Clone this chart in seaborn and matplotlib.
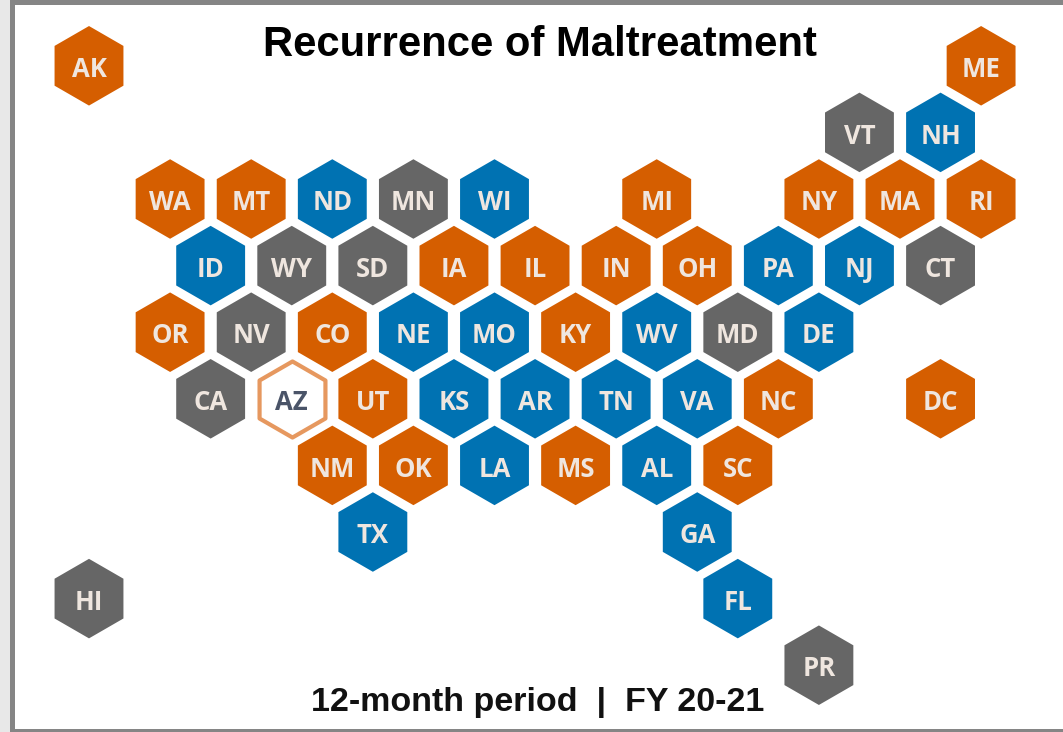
import matplotlib
matplotlib.use("Agg")
import matplotlib.pyplot as plt
import pandas as pd
import seaborn as sns
from matplotlib.patches import Rectangle

# tile grid: half-column steps across, one row per line of tiles
states = ['AK', 'ME', 'VT', 'NH',
          'WA', 'MT', 'ND', 'MN', 'WI', 'MI', 'NY', 'MA', 'RI',
          'ID', 'WY', 'SD', 'IA', 'IL', 'IN', 'OH', 'PA', 'NJ', 'CT',
          'OR', 'NV', 'CO', 'NE', 'MO', 'KY', 'WV', 'MD', 'DE',
          'CA', 'AZ', 'UT', 'KS', 'AR', 'TN', 'VA', 'NC', 'DC',
          'NM', 'OK', 'LA', 'MS', 'AL', 'SC',
          'TX', 'GA', 'FL', 'HI', 'PR']
grid_col = [0, 22, 19, 21,
            2, 4, 6, 8, 10, 14, 18, 20, 22,
            3, 5, 7, 9, 11, 13, 15, 17, 19, 21,
            2, 4, 6, 8, 10, 12, 14, 16, 18,
            3, 5, 7, 9, 11, 13, 15, 17, 21,
            6, 8, 10, 12, 14, 16,
            7, 15, 16, 0, 18]
grid_row = [0, 0, 1, 1,
            2, 2, 2, 2, 2, 2, 2, 2, 2,
            3, 3, 3, 3, 3, 3, 3, 3, 3, 3,
            4, 4, 4, 4, 4, 4, 4, 4, 4,
            5, 5, 5, 5, 5, 5, 5, 5, 5,
            6, 6, 6, 6, 6, 6,
            7, 7, 8, 8, 9]
status = ['worse', 'worse', 'same', 'better',
          'worse', 'worse', 'better', 'same', 'better', 'worse', 'worse', 'worse', 'worse',
          'better', 'same', 'same', 'worse', 'worse', 'worse', 'worse', 'better', 'better', 'same',
          'worse', 'same', 'worse', 'better', 'better', 'worse', 'better', 'same', 'better',
          'same', 'selected', 'worse', 'better', 'better', 'better', 'better', 'worse', 'worse',
          'worse', 'worse', 'better', 'worse', 'better', 'worse',
          'better', 'better', 'better', 'same', 'same']

colores = {'worse': '#D55E00', 'better': '#0072B2', 'same': '#666666'}
borde_az = '#E6985F'

df = pd.DataFrame({'state': states, 'col': grid_col, 'row': grid_row, 'status': status})

sns.set_theme(style="white")
plt.rcParams['font.family'] = ['Open Sans', 'DejaVu Sans']

fig, ax = plt.subplots(figsize=(10.63, 7.32), dpi=100)
ax.set_position([0, 0, 1, 1])
ax.axis('off')

sns.scatterplot(data=df[df['status'] != 'selected'], x='col', y='row', hue='status',
                palette=colores, marker='h', s=3280, linewidth=0, legend=False, ax=ax)
sns.scatterplot(data=df[df['status'] == 'selected'], x='col', y='row', marker='h', s=3000,
                color='white', edgecolor=borde_az, linewidth=3, legend=False, ax=ax)

ax.set_xlim(-89 / 40.55, (1063 - 89) / 40.55)
ax.set_ylim((732 - 65.8) / 66.6, -65.8 / 66.6)

for _, fila in df.iterrows():
    cor = '#4A5468' if fila['status'] == 'selected' else '#EFE6DF'
    ax.text(fila['col'], fila['row'] + 0.055, fila['state'], ha='center', va='center',
            fontsize=18.5, fontweight='bold', color=cor)

fig.text(540 / 1063, 1 - 45 / 732, 'Recurrence of Maltreatment', ha='center', va='center',
         fontsize=30.2, fontweight='bold', color='black', family='Liberation Sans')
fig.text(538 / 1063, 1 - 702 / 732, '12-month period  |  FY 20-21', ha='center', va='center',
         fontsize=24.5, fontweight='bold', color='#111111', family='Liberation Sans')

# moldura da janela
fig.patches.append(Rectangle((0, 0), 10 / 1063, 1, transform=fig.transFigure, facecolor='#E8E8E8', edgecolor='none'))
fig.patches.append(Rectangle((10 / 1063, 0), 5 / 1063, 1, transform=fig.transFigure, facecolor='#858585', edgecolor='none'))
fig.patches.append(Rectangle((10 / 1063, 1 - 5 / 732), 1053 / 1063, 5 / 732, transform=fig.transFigure, facecolor='#858585', edgecolor='none'))
fig.patches.append(Rectangle((10 / 1063, 0), 1053 / 1063, 3 / 732, transform=fig.transFigure, facecolor='#858585', edgecolor='none'))

fig.savefig('out.png', dpi=100)
